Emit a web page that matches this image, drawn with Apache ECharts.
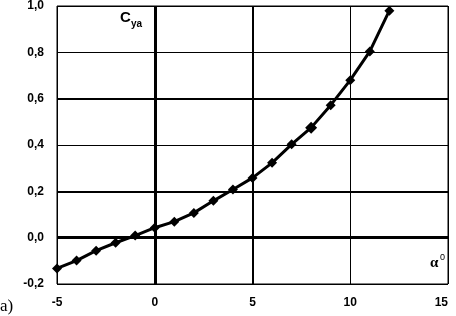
<!DOCTYPE html>
<html>
<head>
<meta charset="utf-8">
<script src="https://cdn.jsdelivr.net/npm/echarts@6/dist/echarts.min.js"></script>
<style>html,body{margin:0;padding:0;background:#fff;}#c{width:456px;height:316px;}</style>
</head>
<body>
<div id="c"></div>
<script>
var alphaDeg = [-5, -4, -3, -2, -1, 0, 1, 2, 3, 4, 5, 6, 7, 8, 9, 10, 11, 12];
var cya = [-0.133, -0.099, -0.056, -0.022, 0.009, 0.043, 0.069, 0.107, 0.159, 0.208, 0.258, 0.323, 0.403, 0.475, 0.572, 0.68, 0.804, 0.98];
var xTicks = [-5, 0, 5, 10, 15];
var yTicks = [-0.2, 0, 0.2, 0.4, 0.6, 0.8, 1.0];

var chart = echarts.init(document.getElementById('c'), null, {renderer: 'canvas'});
var data = alphaDeg.map(function (a, i) {
  var d = {value: [a, cya[i]]};
  if (a === 8) d.symbolSize = 12;
  return d;
});
chart.setOption({
  animation: false,
  backgroundColor: '#fff',
  grid: {left: 57, right: 8, top: 5, bottom: 32, show: true, borderColor: '#000', borderWidth: 1, backgroundColor: 'transparent'},
  xAxis: {
    type: 'value', min: -5, max: 15, interval: 5,
    axisLine: {show: false}, axisTick: {show: false},
    splitLine: {show: true, lineStyle: {color: '#000', width: 1}},
    axisLabel: {color: '#000', fontFamily: 'Liberation Sans', fontWeight: 'bold', fontSize: 12, margin: 13,
      alignMaxLabel: 'right', formatter: function (v) { return String(v); }}
  },
  yAxis: {
    type: 'value', min: -0.2, max: 1.0, interval: 0.2,
    axisLine: {show: false}, axisTick: {show: false},
    splitLine: {show: true, lineStyle: {color: '#000', width: 1}},
    axisLabel: {color: '#000', fontFamily: 'Liberation Sans', fontWeight: 'bold', fontSize: 12, margin: 13,
      formatter: function (v) { return v.toFixed(1).replace('.', ','); }}
  },
  series: [{
    type: 'line',
    data: data,
    lineStyle: {color: '#000', width: 3},
    itemStyle: {color: '#000'},
    symbol: 'diamond',
    symbolSize: 10,
    z: 5,
    markLine: {
      silent: true, symbol: 'none', label: {show: false},
      data: [
        {yAxis: 0, lineStyle: {color: '#000', width: 3, type: 'solid'}},
        {yAxis: 0.2, lineStyle: {color: '#000', width: 2, type: 'solid'}},
        {yAxis: 0.6, lineStyle: {color: '#000', width: 2, type: 'solid'}},
        {xAxis: 0, lineStyle: {color: '#000', width: 3, type: 'solid'}},
        {xAxis: 5, lineStyle: {color: '#000', width: 2, type: 'solid'}}
      ],
      z: 1
    }
  }],
  graphic: [
    {type: 'text', left: 120, top: 10, style: {text: 'C', font: 'bold 15px "Liberation Sans"', fill: '#000'}},
    {type: 'text', left: 131, top: 19, style: {text: 'ya', font: 'bold 10px "Liberation Sans"', fill: '#000'}},
    {type: 'text', left: 430, top: 256, style: {text: 'α', font: 'bold 15px "Liberation Serif"', fill: '#000'}},
    {type: 'text', left: 440, top: 253, style: {text: '0', font: '9px "Liberation Sans"', fill: '#000'}},
    {type: 'text', left: 0, top: 298, style: {text: 'a)', font: '17px "Liberation Serif"', fill: '#000'}}
  ]
});
</script>
</body>
</html>
